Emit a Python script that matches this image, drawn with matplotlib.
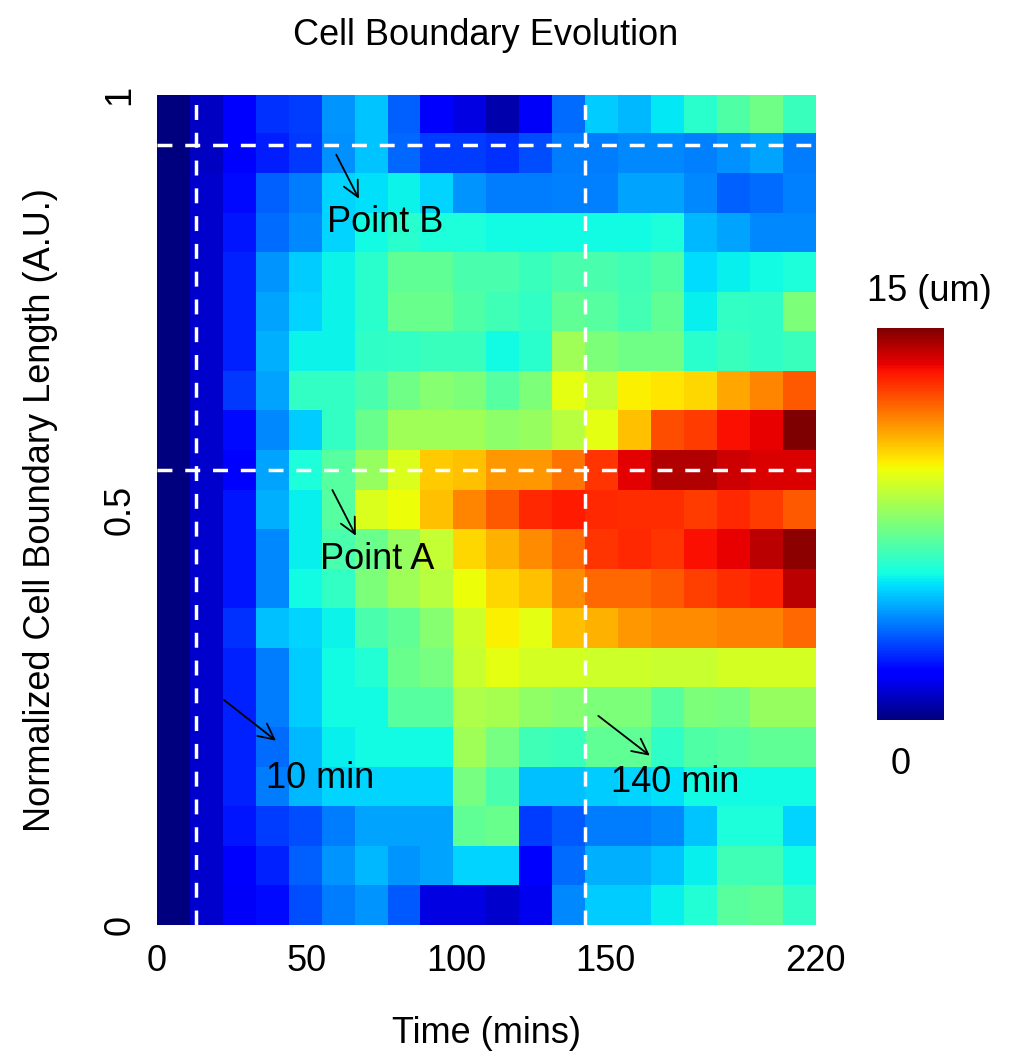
import numpy as np
import matplotlib
matplotlib.use("Agg")
import matplotlib.pyplot as plt

plt.rcParams['font.family'] = ['Liberation Sans', 'DejaVu Sans']

# boundary length (um), rows from top (normalized length 1) to bottom (0), 20 time bins 0-220 min
row00 = [0, 0.9, 1.8, 2.6, 2.8, 4.1, 4.8, 3.3, 1.7, 1.3, 0.6, 1.6, 3.5, 4.9, 4.6, 5.3, 6.0, 6.7, 7.3, 6.3]
row01 = [0, 0.9, 1.8, 2.3, 2.7, 4.0, 4.8, 3.4, 2.8, 2.8, 2.6, 3.0, 3.7, 3.7, 3.9, 3.9, 3.8, 4.0, 4.3, 3.7]
row02 = [0, 1.0, 2.0, 3.3, 3.7, 5.0, 5.2, 5.5, 5.0, 4.1, 3.7, 3.7, 3.8, 3.8, 4.3, 4.3, 3.9, 3.3, 3.5, 3.8]
row03 = [0, 1.0, 2.2, 3.5, 3.9, 5.0, 5.6, 6.0, 5.8, 5.8, 5.6, 5.6, 5.6, 5.6, 5.6, 5.8, 4.6, 4.3, 3.9, 3.9]
row04 = [0, 1.0, 2.4, 4.1, 4.9, 5.5, 6.0, 7.0, 7.0, 6.6, 6.6, 6.3, 6.6, 6.6, 6.4, 6.7, 5.1, 5.4, 5.6, 5.8]
row05 = [0, 1.0, 2.4, 4.3, 5.0, 5.5, 6.0, 7.2, 7.2, 6.7, 6.4, 6.2, 7.0, 6.8, 6.5, 7.0, 5.4, 6.2, 6.1, 7.5]
row06 = [0, 1.0, 2.4, 4.5, 5.5, 5.5, 6.1, 6.2, 6.3, 6.3, 5.6, 6.0, 8.2, 7.5, 7.3, 7.3, 6.0, 6.3, 6.1, 6.3]
row07 = [0, 1.0, 2.7, 4.3, 6.2, 6.2, 6.6, 7.3, 7.7, 7.5, 6.8, 7.5, 9.4, 8.8, 9.8, 10.0, 10.2, 11.0, 11.5, 12.2]
row08 = [0, 1.0, 2.0, 3.9, 4.9, 6.2, 7.2, 8.2, 8.2, 8.2, 7.8, 8.0, 8.6, 9.4, 10.6, 12.4, 12.7, 13.4, 13.6, 15.0]
row09 = [0, 1.0, 1.8, 4.3, 5.8, 6.8, 8.0, 9.2, 10.4, 10.6, 11.2, 11.2, 11.8, 12.8, 13.7, 14.3, 14.3, 14.0, 13.8, 13.8]
row10 = [0, 1.0, 2.2, 4.5, 5.4, 6.8, 9.2, 9.6, 10.6, 11.5, 12.2, 13.0, 13.2, 13.0, 12.9, 12.9, 12.7, 13.0, 12.7, 12.2]
row11 = [0, 1.0, 2.2, 3.9, 5.4, 6.6, 7.2, 8.0, 8.8, 10.2, 10.8, 11.4, 12.0, 12.8, 13.0, 12.8, 13.4, 13.6, 14.2, 14.8]
row12 = [0, 1.0, 2.2, 3.9, 5.6, 6.2, 7.5, 8.2, 8.6, 9.6, 10.2, 10.6, 11.4, 12.0, 12.0, 12.2, 12.6, 12.9, 13.1, 14.2]
row13 = [0, 1.0, 2.6, 4.7, 5.0, 5.5, 6.6, 7.0, 7.7, 9.0, 9.8, 9.4, 10.6, 10.8, 11.2, 11.4, 11.4, 11.6, 11.6, 12.0]
row14 = [0, 1.0, 2.4, 3.7, 4.9, 5.6, 5.9, 7.2, 7.4, 8.9, 9.4, 9.1, 9.1, 9.0, 9.0, 8.9, 8.9, 9.1, 9.1, 9.1]
row15 = [0, 1.0, 2.4, 3.7, 4.9, 5.6, 5.6, 6.8, 6.8, 8.4, 8.3, 7.9, 7.7, 7.5, 7.5, 6.8, 7.5, 7.4, 8.0, 8.0]
row16 = [0, 1.0, 2.4, 3.5, 4.6, 5.4, 5.6, 5.6, 5.6, 8.2, 7.4, 6.4, 6.3, 7.0, 7.0, 6.1, 6.7, 6.8, 7.0, 7.0]
row17 = [0, 1.0, 2.4, 3.7, 4.6, 5.0, 5.0, 5.0, 5.0, 7.4, 6.6, 4.7, 4.7, 4.9, 5.0, 5.2, 5.6, 5.6, 5.6, 5.6]
row18 = [0, 1.0, 2.2, 2.8, 3.0, 3.7, 4.3, 4.3, 4.3, 7.0, 7.2, 2.8, 3.2, 3.7, 3.7, 3.9, 4.8, 5.8, 5.8, 5.0]
row19 = [0, 1.0, 1.8, 2.4, 3.3, 4.1, 4.6, 4.1, 4.3, 5.0, 5.0, 1.7, 3.5, 4.5, 4.5, 4.8, 5.4, 6.4, 6.4, 5.6]
row20 = [0, 1.0, 1.6, 2.0, 3.0, 3.7, 4.1, 3.2, 1.3, 1.3, 1.0, 1.5, 3.9, 4.9, 4.9, 5.4, 5.9, 6.9, 7.0, 6.2]

x_ticks = [0, 50, 100, 150, 220]
y_ticks = [0, 0.5, 1]
y_labels = ['0', '0.5', '1']
time_marks = [13, 143]        # dashed vertical lines ("10 min", "140 min")
point_marks = [0.94, 0.548]   # dashed horizontal lines (Point B, Point A)

grid = np.array([row00, row01, row02, row03, row04, row05, row06, row07, row08, row09, row10,
                 row11, row12, row13, row14, row15, row16, row17, row18, row19, row20])

fig = plt.figure(figsize=(10.15, 10.61), dpi=100)
ax = fig.add_axes([0.1547, 0.1282, 0.6483, 0.7823])
im = ax.imshow(grid, cmap='jet', vmin=0, vmax=15, aspect='auto',
               extent=(0, 220, 0, 1), interpolation='nearest')

dash = dict(color='white', lw=2.5, linestyle=(0, (4.3, 3.7)))
for t in time_marks:
    ax.axvline(t, **dash)
for p in point_marks:
    ax.axhline(p, **dash)

fs = 26
arrow = dict(arrowstyle='->', lw=1.3, color='black', mutation_scale=28)
notes = [('Point B', (59.5, 0.931), (67.9, 0.872), (76.2, 0.846)),
         ('Point A', (58.2, 0.527), (66.9, 0.466), (73.6, 0.440)),
         ('10 min', (21.7, 0.273), (40.5, 0.220), (54.5, 0.177)),
         ('140 min', (146.8, 0.254), (165.5, 0.202), (173.2, 0.172))]
for label, start, tip, pos in notes:
    ax.annotate('', xy=tip, xytext=start, arrowprops=arrow)
    ax.text(pos[0], pos[1], label, fontsize=fs, ha='center', va='center')

ax.set_xticks(x_ticks)
ax.set_xticklabels([str(v) for v in x_ticks], fontsize=fs)
ax.set_yticks(y_ticks)
ax.set_yticklabels(y_labels, fontsize=fs, rotation=90, va='center')
ax.tick_params(length=0, pad=14)
for s in ax.spines.values():
    s.set_visible(False)

ax.set_xlabel('Time (mins)', fontsize=fs, labelpad=26)
ax.set_ylabel('Normalized Cell Boundary Length (A.U.)', fontsize=fs, labelpad=32)
ax.set_title('Cell Boundary Evolution', fontsize=fs, pad=36)

cax = fig.add_axes([0.864, 0.3214, 0.066, 0.3695])
cb = fig.colorbar(im, cax=cax, ticks=[])
cb.outline.set_visible(False)
fig.text(0.916, 0.725, '15 (um)', fontsize=fs, ha='center', va='center')
fig.text(0.887, 0.279, '0', fontsize=fs, ha='center', va='center')

fig.savefig('out.png', dpi=100)
